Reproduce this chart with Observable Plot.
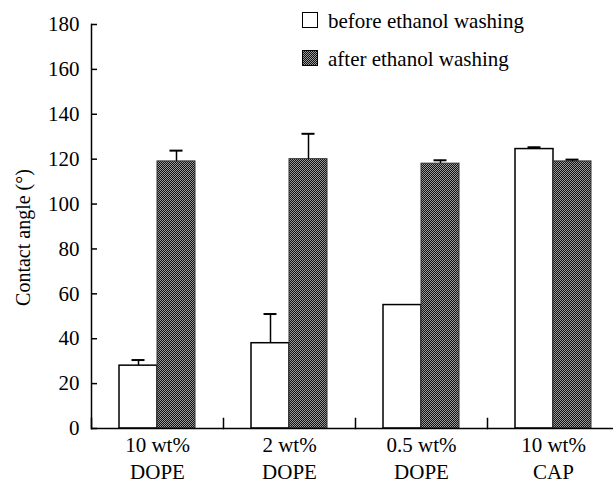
<!DOCTYPE html>
<html>
<head>
<meta charset="utf-8">
<script src="https://cdn.jsdelivr.net/npm/d3@7"></script>
<script src="https://cdn.jsdelivr.net/npm/@observablehq/plot@0.6"></script>
<style>
  html, body { margin: 0; padding: 0; background: #fff; overflow: hidden; }
  #wrap { position: relative; width: 613px; height: 484px; overflow: hidden;
          font-family: "Liberation Serif", "DejaVu Serif", "Times New Roman", serif; color: #000; }
  .legbox { position: absolute; width: 14px; height: 14px; border: 1.5px solid #000; box-sizing: content-box; }
  .legtext { position: absolute; font-size: 21px; line-height: 21px; white-space: nowrap; }
</style>
</head>
<body>
<div id="wrap"></div>
<script>
// ---- data ----
const groups = ["10 wt%\nDOPE", "2 wt%\nDOPE", "0.5 wt%\nDOPE", "10 wt%\nCAP"];
const seriesKeys = ["before", "after"];
const seriesLabels = ["before ethanol washing", "after ethanol washing"];
const beforeValues = [28, 38, 55, 124.5];
const beforeErrors = [2.5, 13, 0, 0.8];
const afterValues = [119, 120, 118, 119];
const afterErrors = [4.8, 11.3, 1.5, 0.8];
const yTicks = [0, 20, 40, 60, 80, 100, 120, 140, 160, 180];
const yLabel = "Contact angle (°)";

const rows = groups.flatMap((g, i) => [
  {group: g, series: "before", value: beforeValues[i], err: beforeErrors[i]},
  {group: g, series: "after", value: afterValues[i], err: afterErrors[i]}
]);
const errRows = rows.filter(d => d.err > 0);

const chart = Plot.plot({
  width: 613,
  height: 484,
  marginLeft: 90,
  marginRight: -7,
  marginTop: 24,
  marginBottom: 56,
  style: {fontFamily: "'Liberation Serif', 'DejaVu Serif', 'Times New Roman', serif", fontSize: "21px", color: "#000", background: "#fff", overflow: "hidden"},
  fx: {domain: groups, padding: 0, label: null},
  x: {domain: seriesKeys, paddingInner: 0, paddingOuter: 0.7, axis: null},
  y: {domain: [0, 180], label: null},
  marks: [
    Plot.barY(rows.filter(d => d.series === "before"), {fx: "group", x: "series", y: "value", fill: "#fff", stroke: "#000", strokeWidth: 1.5}),
    Plot.barY(rows.filter(d => d.series === "after"), {fx: "group", x: "series", y: "value", fill: "url(#stip)", stroke: "#333", strokeWidth: 1}),
    Plot.ruleX(errRows, {fx: "group", x: "series", y1: "value", y2: d => d.value + d.err, stroke: "#000", strokeWidth: 1.5}),
    Plot.tickY(errRows, {fx: "group", x: "series", y: d => d.value + d.err, stroke: "#000", strokeWidth: 2, insetLeft: 12.5, insetRight: 12.5}),
    Plot.ruleY([0], {stroke: "#000", strokeWidth: 1.5}),
    Plot.frame({anchor: "left", facetAnchor: "left", stroke: "#000", strokeWidth: 1.5}),
    Plot.frame({anchor: "left", insetTop: 394, stroke: "#000", strokeWidth: 1.5}),
    Plot.axisY({ticks: yTicks, tickFormat: d => String(d), tickSize: -6, tickPadding: 18, label: null, fontSize: 21, strokeWidth: 1.5}),
    Plot.axisFx({anchor: "bottom", tickSize: 0, tickPadding: 4, lineHeight: 1.3, label: null, fontSize: 21}),
    Plot.text([yLabel], {frameAnchor: "left", facetAnchor: "left", rotate: -90, textAnchor: "middle", lineAnchor: "middle", dx: -68, dy: 11, fontSize: 20, text: d => d})
  ]
});

// stipple pattern for the dark bars
const defs = d3.select(chart).insert("defs", ":first-child");
const pat = defs.append("pattern").attr("id", "stip").attr("width", 2).attr("height", 2).attr("patternUnits", "userSpaceOnUse");
pat.append("rect").attr("width", 2).attr("height", 2).attr("fill", "#9a9a9a");
pat.append("rect").attr("width", 1).attr("height", 1).attr("fill", "#111");
pat.append("rect").attr("x", 1).attr("y", 1).attr("width", 1).attr("height", 1).attr("fill", "#111");

const wrap = document.getElementById("wrap");
wrap.appendChild(chart);

// legend (inside the plot area, top right)
const legendTops = [12, 50];
seriesLabels.forEach((label, i) => {
  const box = document.createElement("div");
  box.className = "legbox";
  box.style.left = "302px";
  box.style.top = legendTops[i] + "px";
  if (i === 0) box.style.background = "#fff";
  else box.style.background = "repeating-conic-gradient(#111 0 25%, #9a9a9a 0 50%) 0 0 / 2px 2px";
  wrap.appendChild(box);
  const t = document.createElement("div");
  t.className = "legtext";
  t.style.left = "328px";
  t.style.top = (legendTops[i] - 1) + "px";
  t.textContent = label;
  wrap.appendChild(t);
});
</script>
</body>
</html>
